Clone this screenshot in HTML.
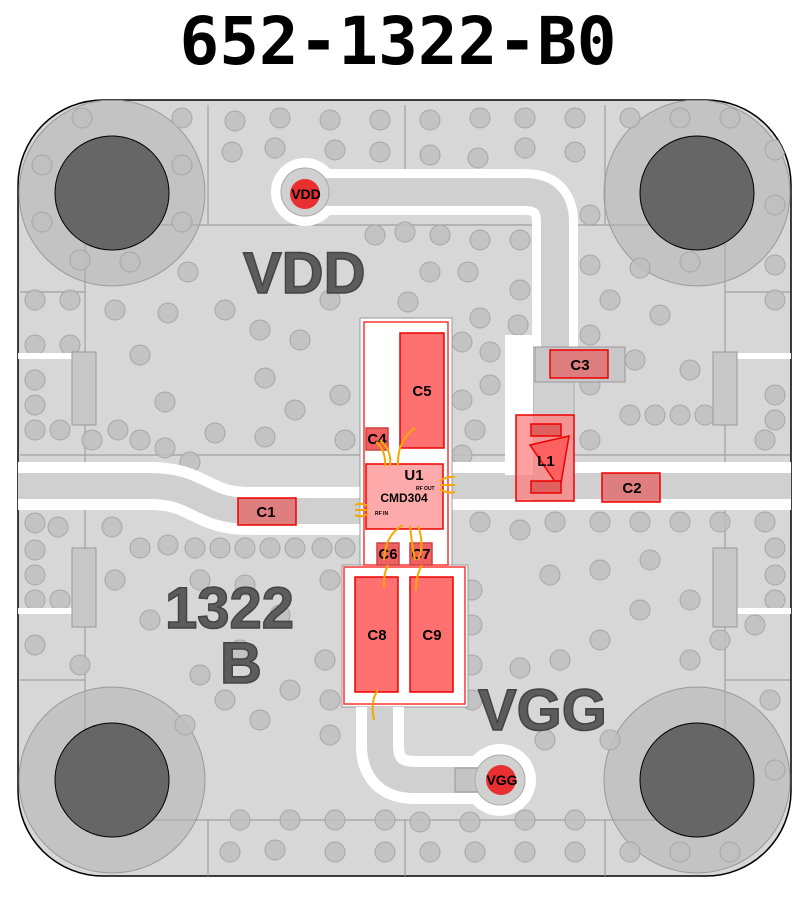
<!DOCTYPE html>
<html><head><style>
html,body{margin:0;padding:0;background:#fff;width:809px;height:898px;overflow:hidden}
svg{display:block}
</style></head><body>
<svg width="809" height="898" viewBox="0 0 809 898" xmlns="http://www.w3.org/2000/svg" font-family="Liberation Sans, sans-serif">
<text x="398" y="64" text-anchor="middle" font-family="DejaVu Sans Mono, Liberation Mono, monospace" font-weight="bold" font-size="66">652-1322-B0</text>
<defs><clipPath id="b"><rect x="18" y="100" width="773" height="776" rx="85"/></clipPath></defs>
<rect x="18" y="100" width="773" height="776" rx="85" fill="#d7d7d7" stroke="#000" stroke-width="1.5"/>
<g clip-path="url(#b)">
<g stroke="#a0a0a0" fill="none" stroke-width="1.2">
<path d="M208 105V225M405 105V170M605 105V225M85 225H725M20 292H85M725 292H790M85 170V820M725 170V820M20 455H360M450 455H790M20 680H85M725 680H790M85 820H725M208 820V876M405 820V876M605 820V876"/>
</g>
<!-- mounting holes -->
<g>
<circle cx="112" cy="193" r="93" fill="#b0b0b0" fill-opacity="0.5" stroke="#999"/>
<circle cx="697" cy="193" r="93" fill="#b0b0b0" fill-opacity="0.5" stroke="#999"/>
<circle cx="112" cy="780" r="93" fill="#b0b0b0" fill-opacity="0.5" stroke="#999"/>
<circle cx="697" cy="780" r="93" fill="#b0b0b0" fill-opacity="0.5" stroke="#999"/>
</g>
<g fill="#c0c0c0" fill-opacity="0.85" stroke="#a6a6a6" stroke-width="1">
<circle cx="82" cy="118" r="10"/><circle cx="182" cy="118" r="10"/><circle cx="235" cy="121" r="10"/><circle cx="280" cy="118" r="10"/><circle cx="330" cy="120" r="10"/><circle cx="380" cy="120" r="10"/><circle cx="232" cy="152" r="10"/><circle cx="275" cy="148" r="10"/><circle cx="335" cy="150" r="10"/><circle cx="380" cy="152" r="10"/><circle cx="430" cy="120" r="10"/><circle cx="480" cy="118" r="10"/><circle cx="525" cy="118" r="10"/><circle cx="575" cy="118" r="10"/><circle cx="430" cy="155" r="10"/><circle cx="478" cy="158" r="10"/><circle cx="525" cy="148" r="10"/><circle cx="575" cy="152" r="10"/><circle cx="42" cy="165" r="10"/><circle cx="42" cy="222" r="10"/><circle cx="182" cy="165" r="10"/><circle cx="182" cy="222" r="10"/><circle cx="80" cy="260" r="10"/><circle cx="130" cy="262" r="10"/><circle cx="188" cy="272" r="10"/><circle cx="225" cy="310" r="10"/><circle cx="35" cy="300" r="10"/><circle cx="70" cy="300" r="10"/><circle cx="35" cy="345" r="10"/><circle cx="70" cy="345" r="10"/><circle cx="115" cy="310" r="10"/><circle cx="168" cy="313" r="10"/><circle cx="260" cy="330" r="10"/><circle cx="300" cy="340" r="10"/><circle cx="330" cy="300" r="10"/><circle cx="265" cy="378" r="10"/><circle cx="295" cy="410" r="10"/><circle cx="165" cy="402" r="10"/><circle cx="215" cy="433" r="10"/><circle cx="265" cy="437" r="10"/><circle cx="35" cy="380" r="10"/><circle cx="35" cy="405" r="10"/><circle cx="35" cy="430" r="10"/><circle cx="60" cy="430" r="10"/><circle cx="92" cy="440" r="10"/><circle cx="118" cy="430" r="10"/><circle cx="140" cy="440" r="10"/><circle cx="165" cy="448" r="10"/><circle cx="190" cy="462" r="10"/><circle cx="140" cy="355" r="10"/><circle cx="340" cy="395" r="10"/><circle cx="345" cy="440" r="10"/>
<circle cx="630" cy="118" r="10"/><circle cx="680" cy="118" r="10"/><circle cx="730" cy="118" r="10"/><circle cx="775" cy="150" r="10"/><circle cx="775" cy="205" r="10"/><circle cx="590" cy="215" r="10"/><circle cx="590" cy="265" r="10"/><circle cx="640" cy="268" r="10"/><circle cx="690" cy="262" r="10"/><circle cx="775" cy="265" r="10"/><circle cx="610" cy="300" r="10"/><circle cx="775" cy="300" r="10"/><circle cx="660" cy="315" r="10"/><circle cx="590" cy="335" r="10"/><circle cx="635" cy="360" r="10"/><circle cx="590" cy="385" r="10"/><circle cx="630" cy="415" r="10"/><circle cx="655" cy="415" r="10"/><circle cx="680" cy="415" r="10"/><circle cx="705" cy="415" r="10"/><circle cx="690" cy="370" r="10"/><circle cx="775" cy="395" r="10"/><circle cx="775" cy="420" r="10"/><circle cx="520" cy="290" r="10"/><circle cx="480" cy="318" r="10"/><circle cx="490" cy="352" r="10"/><circle cx="462" cy="342" r="10"/><circle cx="490" cy="385" r="10"/><circle cx="462" cy="400" r="10"/><circle cx="518" cy="325" r="10"/><circle cx="520" cy="240" r="10"/><circle cx="480" cy="240" r="10"/><circle cx="440" cy="235" r="10"/><circle cx="405" cy="232" r="10"/><circle cx="375" cy="235" r="10"/><circle cx="430" cy="272" r="10"/><circle cx="468" cy="272" r="10"/><circle cx="408" cy="302" r="10"/><circle cx="475" cy="430" r="10"/><circle cx="462" cy="455" r="10"/><circle cx="590" cy="440" r="10"/><circle cx="765" cy="440" r="10"/>
<circle cx="35" cy="523" r="10"/><circle cx="58" cy="527" r="10"/><circle cx="35" cy="550" r="10"/><circle cx="35" cy="575" r="10"/><circle cx="35" cy="600" r="10"/><circle cx="60" cy="600" r="10"/><circle cx="112" cy="527" r="10"/><circle cx="140" cy="548" r="10"/><circle cx="168" cy="545" r="10"/><circle cx="195" cy="548" r="10"/><circle cx="220" cy="548" r="10"/><circle cx="245" cy="548" r="10"/><circle cx="270" cy="548" r="10"/><circle cx="295" cy="548" r="10"/><circle cx="322" cy="548" r="10"/><circle cx="345" cy="548" r="10"/><circle cx="115" cy="580" r="10"/><circle cx="150" cy="620" r="10"/><circle cx="200" cy="580" r="10"/><circle cx="245" cy="585" r="10"/><circle cx="280" cy="615" r="10"/><circle cx="240" cy="650" r="10"/><circle cx="200" cy="675" r="10"/><circle cx="325" cy="660" r="10"/><circle cx="330" cy="700" r="10"/><circle cx="330" cy="735" r="10"/><circle cx="290" cy="690" r="10"/><circle cx="260" cy="720" r="10"/><circle cx="35" cy="645" r="10"/><circle cx="80" cy="665" r="10"/><circle cx="185" cy="725" r="10"/><circle cx="225" cy="700" r="10"/><circle cx="330" cy="580" r="10"/>
<circle cx="240" cy="820" r="10"/><circle cx="290" cy="820" r="10"/><circle cx="335" cy="820" r="10"/><circle cx="385" cy="820" r="10"/><circle cx="420" cy="822" r="10"/><circle cx="470" cy="822" r="10"/><circle cx="525" cy="820" r="10"/><circle cx="575" cy="820" r="10"/><circle cx="230" cy="852" r="10"/><circle cx="275" cy="850" r="10"/><circle cx="335" cy="852" r="10"/><circle cx="385" cy="852" r="10"/><circle cx="430" cy="852" r="10"/><circle cx="475" cy="852" r="10"/><circle cx="525" cy="852" r="10"/><circle cx="575" cy="852" r="10"/><circle cx="630" cy="852" r="10"/><circle cx="680" cy="852" r="10"/><circle cx="730" cy="852" r="10"/><circle cx="775" cy="770" r="10"/>
<circle cx="480" cy="522" r="10"/><circle cx="520" cy="530" r="10"/><circle cx="555" cy="522" r="10"/><circle cx="600" cy="522" r="10"/><circle cx="640" cy="522" r="10"/><circle cx="680" cy="522" r="10"/><circle cx="720" cy="522" r="10"/><circle cx="765" cy="522" r="10"/><circle cx="775" cy="548" r="10"/><circle cx="775" cy="575" r="10"/><circle cx="775" cy="600" r="10"/><circle cx="650" cy="560" r="10"/><circle cx="600" cy="570" r="10"/><circle cx="550" cy="575" r="10"/><circle cx="472" cy="590" r="10"/><circle cx="472" cy="625" r="10"/><circle cx="472" cy="665" r="10"/><circle cx="472" cy="700" r="10"/><circle cx="520" cy="668" r="10"/><circle cx="560" cy="660" r="10"/><circle cx="600" cy="640" r="10"/><circle cx="640" cy="610" r="10"/><circle cx="690" cy="600" r="10"/><circle cx="720" cy="640" r="10"/><circle cx="690" cy="660" r="10"/><circle cx="545" cy="740" r="10"/><circle cx="610" cy="740" r="10"/><circle cx="770" cy="700" r="10"/><circle cx="755" cy="625" r="10"/>
</g>
<g>
<circle cx="112" cy="193" r="57" fill="#666" stroke="#000"/>
<circle cx="697" cy="193" r="57" fill="#666" stroke="#000"/>
<circle cx="112" cy="780" r="57" fill="#666" stroke="#000"/>
<circle cx="697" cy="780" r="57" fill="#666" stroke="#000"/>
</g>
<!-- white cutouts / traces -->
<g fill="#fff">
<rect x="18" y="353" width="55" height="6"/><rect x="737" y="353" width="60" height="6"/>
<rect x="18" y="608" width="55" height="6"/><rect x="737" y="608" width="60" height="6"/>
</g>
<g fill="none" stroke="#fff" stroke-width="48">
<path d="M10 486H150C200 486 200 511 250 511H360"/>
<path d="M445 486H800"/>
</g>
<path d="M10 486H150C200 486 200 511 250 511H360M445 486H800" fill="none" stroke="#d0d0d0" stroke-width="26"/>
<!-- VDD trace -->
<path d="M305 192H525Q555 192 555 222V350" fill="none" stroke="#fff" stroke-width="46"/>
<circle cx="305" cy="192" r="34" fill="#fff"/>
<path d="M305 192H525Q555 192 555 222V350" fill="none" stroke="#d0d0d0" stroke-width="28"/>
<path d="M533 347H574V500H533Z" fill="#d0d0d0" stroke="#aaa"/>
<rect x="505" y="335" width="28" height="140" fill="#fff"/>
<circle cx="305" cy="192" r="24" fill="#d0d0d0" stroke="#aaa"/>
<!-- center white area -->
<rect x="360" y="318" width="92" height="250" fill="#fff" stroke="#999"/>
<rect x="342" y="565" width="126" height="142" fill="#fff" stroke="#999"/>
<!-- VGG trace -->
<path d="M380 707V745Q380 780 415 780H500" fill="none" stroke="#fff" stroke-width="48"/>
<circle cx="500" cy="780" r="36" fill="#fff"/>
<path d="M380 707V745Q380 780 415 780H500" fill="none" stroke="#d0d0d0" stroke-width="26"/>
<rect x="455" y="768" width="40" height="24" fill="#c4c4c4" stroke="#999"/>
<circle cx="500" cy="780" r="25" fill="#d0d0d0" stroke="#aaa"/>
<!-- side tabs -->
<g fill="#c8c8c8" stroke="#999">
<rect x="72" y="352" width="24" height="73"/><rect x="713" y="352" width="24" height="73"/>
<rect x="72" y="548" width="24" height="79"/><rect x="713" y="548" width="24" height="79"/>
</g>
<rect x="535" y="347" width="90" height="35" fill="#c8c8c8" stroke="#999"/>
</g>
<!-- big labels -->
<g font-weight="bold" fill="#5c5c5c" stroke="#444" stroke-width="1.5" font-family="Liberation Sans, sans-serif">
<text x="243" y="293" font-size="58">VDD</text>
<text x="165" y="628" font-size="58">1322</text>
<text x="220" y="683" font-size="58">B</text>
<text x="478" y="730" font-size="58">VGG</text>
</g>
<!-- pads -->
<circle cx="305" cy="194" r="15" fill="#e83030"/>
<text x="306" y="199" font-size="14" font-weight="bold" text-anchor="middle">VDD</text>
<circle cx="501" cy="780" r="15" fill="#e83030"/>
<text x="502" y="785" font-size="14" font-weight="bold" text-anchor="middle">VGG</text>
<!-- components -->
<rect x="364" y="322" width="84" height="243" fill="none" stroke="#f33" stroke-width="1.5"/>
<rect x="344" y="567" width="121" height="137" fill="none" stroke="#f33" stroke-width="1.5"/>
<g stroke="#e00" stroke-width="1.5" font-weight="bold" font-size="16">
<rect x="400" y="333" width="44" height="115" fill="#ff7070"/>
<rect x="366" y="428" width="22" height="22" fill="#f06060" stroke="#c44"/>
<rect x="366" y="464" width="77" height="65" fill="#ffaaaa"/>
<rect x="377" y="543" width="22" height="22" fill="#f06060" stroke="#c44"/>
<rect x="410" y="543" width="22" height="22" fill="#f06060" stroke="#c44"/>
<rect x="355" y="577" width="43" height="115" fill="#ff7070"/>
<rect x="410" y="577" width="43" height="115" fill="#ff7070"/>
<rect x="238" y="498" width="58" height="27" fill="#e07070" fill-opacity="0.85"/>
<rect x="550" y="350" width="58" height="28" fill="#e07070" fill-opacity="0.85"/>
<rect x="602" y="473" width="58" height="29" fill="#e07070" fill-opacity="0.85"/>
<rect x="516" y="415" width="58" height="86" fill="#ff8080" fill-opacity="0.75"/>
<path d="M530 445L569 436L560 489Z" fill="#ff6060"/>
<rect x="531" y="424" width="30" height="12" fill="#e06060"/>
<rect x="531" y="481" width="30" height="12" fill="#e06060"/>
</g>
<g font-weight="bold" font-size="15" text-anchor="middle">
<text x="422" y="396">C5</text><text x="377" y="444">C4</text>
<text x="414" y="480">U1</text><text x="404" y="502" font-size="12">CMD304</text>
<text x="388" y="559">C6</text><text x="421" y="559">C7</text>
<text x="377" y="640">C8</text><text x="432" y="640">C9</text>
<text x="266" y="517">C1</text><text x="580" y="370">C3</text>
<text x="632" y="493">C2</text><text x="546" y="466">L1</text>
</g>
<g font-size="5" font-weight="bold"><text x="375" y="515">RF IN</text><text x="416" y="490">RF OUT</text></g>
<g fill="none" stroke="#f5a800" stroke-width="2">
<path d="M376 442Q386 450 385 466M380 440Q392 450 390 466M415 428Q397 440 398 466"/>
<path d="M403 525Q385 535 384 560M410 526Q412 545 415 560M418 526Q425 545 418 560"/>
<path d="M388 565Q383 575 384 588M422 565Q416 575 416 590"/>
<path d="M378 690Q370 700 374 720"/>
<path d="M440 481Q447 476 455 477M440 485H455M440 489Q447 494 455 492"/>
<path d="M368 506Q360 502 355 505M368 510H355M368 514Q360 518 355 515"/>
</g>
</svg>
</body></html>
